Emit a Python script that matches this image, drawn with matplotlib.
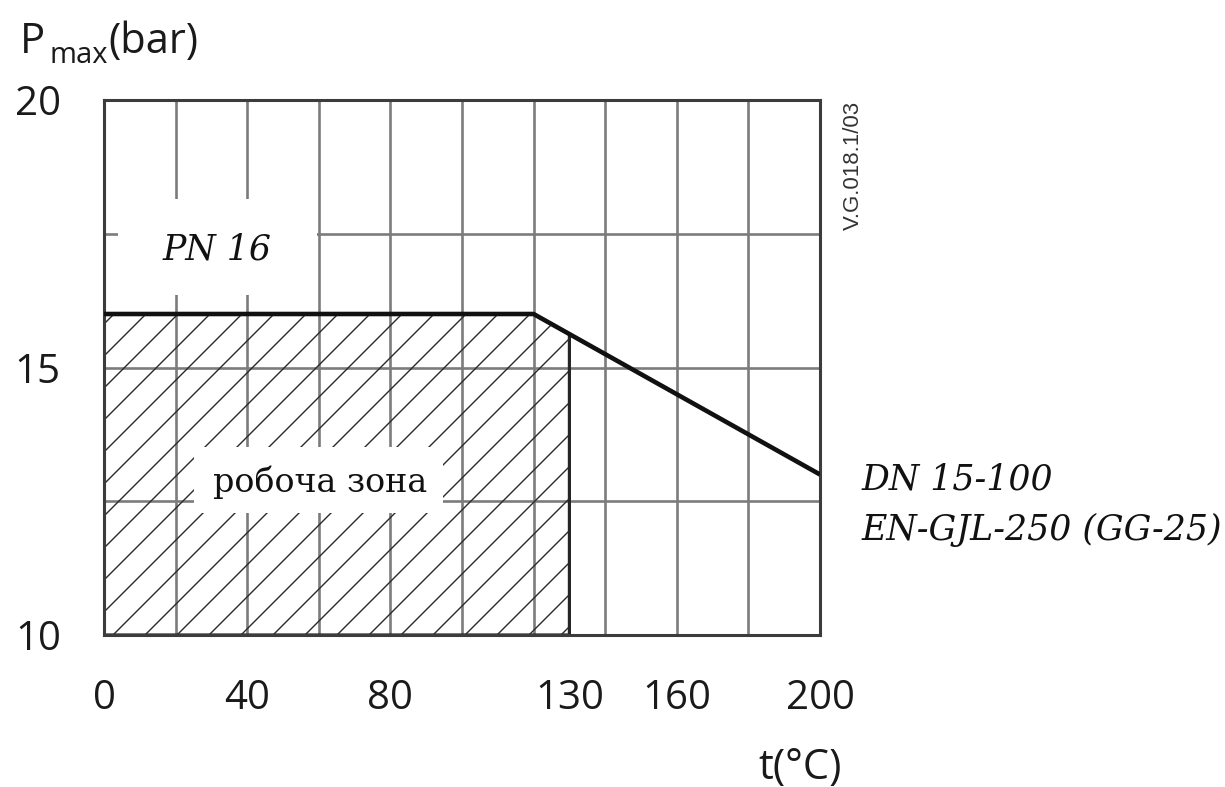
import matplotlib
matplotlib.use("Agg")
import numpy as np
import matplotlib.pyplot as plt
from matplotlib.patches import Polygon, Rectangle

# ---- data ----
temp = [0, 120, 200]            # t (°C)
pmax = [16, 16, 13]             # Pmax (bar)
work_temp_max = 130             # right edge of working zone
x_ticks = [0, 40, 80, 130, 160, 200]
y_ticks = [10, 15, 20]
x_grid = [20, 40, 60, 80, 100, 120, 140, 160, 180]
y_grid = [12.5, 15, 17.5]
x_lim = (0, 200)
y_lim = (10, 20)

W, H = 1225, 787
fig = plt.figure(figsize=(W/100, H/100), dpi=100)
ax_box = (104, 100, 820, 635)  # left, top, right, bottom in pixels
ax = fig.add_axes([ax_box[0]/W, 1-ax_box[3]/H, (ax_box[2]-ax_box[0])/W, (ax_box[3]-ax_box[1])/H])
ax.set_xlim(*x_lim)
ax.set_ylim(*y_lim)

grid_col = '#7c7c7c'
ax.vlines(x_grid, y_lim[0], y_lim[1], colors=grid_col, linewidth=1.9, zorder=1)
ax.hlines(y_grid, x_lim[0], x_lim[1], colors=grid_col, linewidth=1.9, zorder=1)

# working zone polygon, under the curve up to 130 °C
p130 = pmax[1] + (pmax[2] - pmax[1]) * (work_temp_max - temp[1]) / (temp[2] - temp[1])
verts = [(temp[0], y_lim[0]), (temp[0], pmax[0]), (temp[1], pmax[1]),
         (work_temp_max, p130), (work_temp_max, y_lim[0])]
zone = Polygon(verts, closed=True, facecolor='none', edgecolor='#262626',
               linewidth=2.3, zorder=2.2)
ax.add_patch(zone)

# 45° hatch lines, clipped to the working zone
sx = (ax_box[2]-ax_box[0]) / (x_lim[1]-x_lim[0])
sy = (ax_box[3]-ax_box[1]) / (y_lim[1]-y_lim[0])
step = 32 / sx
span = 400
for x0 in np.arange(-(y_lim[1]-y_lim[0])*sy/sx - 2*step, work_temp_max + step, step):
    ln, = ax.plot([x0, x0 + span], [y_lim[0], y_lim[0] + span*sx/sy],
                  color='#2a2a2a', linewidth=1.0, zorder=2)
    ln.set_clip_path(zone)

# white boxes behind labels
ax.add_patch(Rectangle((4, 16.35), 55.5, 1.8, facecolor='white', edgecolor='none', zorder=3))
ax.add_patch(Rectangle((25, 12.28), 69.7, 1.23, facecolor='white', edgecolor='none', zorder=3))

ax.plot(temp, pmax, color='#111111', linewidth=3.3, zorder=5, solid_capstyle='butt')

serif = ['DejaVu Serif']
ax.text(31.6, 17.2, 'PN 16', fontsize=25, family=serif, style='italic',
        ha='center', va='center', zorder=6, color='#111111')
ax.text(60.3, 12.85, 'робоча зона', fontsize=24, family=serif,
        ha='center', va='center', zorder=6, color='#111111')
ax.text(211.7, 12.9, 'DN 15-100', fontsize=25, family=serif, style='italic',
        ha='left', va='center', clip_on=False, color='#111111')
ax.text(211.7, 11.96, 'EN-GJL-250 (GG-25)', fontsize=25, family=serif, style='italic',
        ha='left', va='center', clip_on=False, color='#111111')

for s in ax.spines.values():
    s.set_color('#3c3c3c')
    s.set_linewidth(2.2)

ax.set_xticks(x_ticks)
ax.set_xticklabels([str(v) for v in x_ticks])
ax.set_yticks(y_ticks)
ax.set_yticklabels([str(v) for v in y_ticks])
ax.tick_params(axis='both', length=0, labelsize=29, colors='#1a1a1a')
ax.tick_params(axis='x', pad=31)
ax.tick_params(axis='y', pad=31)
for lab in ax.get_xticklabels() + ax.get_yticklabels():
    lab.set_family('Open Sans')

# P_max(bar) built from three pieces
fig.text(20/W, 1-53/H, 'P', fontsize=30, family='Open Sans',
         ha='left', va='baseline', color='#1a1a1a')
fig.text(49/W, 1-63/H, 'max', fontsize=21, family='Open Sans',
         ha='left', va='baseline', color='#1a1a1a')
fig.text(108/W, 1-53/H, '(bar)', fontsize=30, family='Open Sans',
         ha='left', va='baseline', color='#1a1a1a')
fig.text(800/W, 1-768/H, 't(°C)', fontsize=30, family='Open Sans',
         ha='center', va='center', color='#1a1a1a')
fig.text(853/W, 1-165/H, 'V.G.018.1/03', fontsize=16, family='Liberation Sans',
         rotation=90, ha='center', va='center', color='#333333')

fig.savefig('out.png', dpi=100, facecolor='white')
